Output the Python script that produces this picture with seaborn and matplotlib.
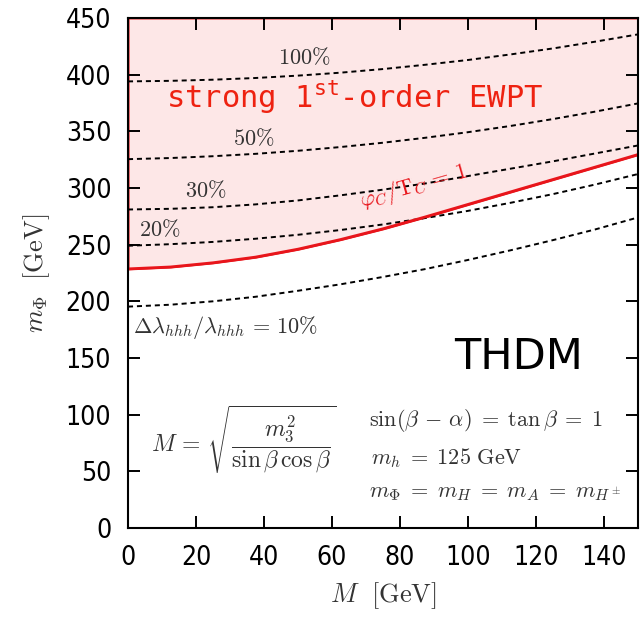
import numpy as np
import pandas as pd
import matplotlib
matplotlib.use("Agg")
import matplotlib.pyplot as plt
import seaborn as sns

# ---- data ----
M_vals = [0, 12.5, 25, 37.5, 50, 62.5, 75, 87.5, 100, 112.5, 125, 137.5, 150]
ewpt_boundary = [228.6, 230.3, 234, 239, 246, 254.5, 264, 274.5, 285.5, 296.5, 307.5, 318.5, 329.5]
dl_100 = [394, 394.5, 395.5, 397, 399.1, 401.7, 404.9, 408.7, 412.9, 417.8, 423.1, 429.1, 435.5]
dl_50 = [325.4, 326.4, 328, 330.1, 332.8, 336.1, 339.9, 344.3, 349.2, 354.7, 360.8, 367.4, 374.6]
dl_30 = [281, 281.6, 283, 285.5, 289, 293.5, 298.5, 304, 310.5, 317, 323.5, 330.5, 337.5]
dl_20 = [249, 250.4, 252.4, 255.2, 258.7, 262.9, 267.8, 273.5, 279.8, 286.9, 294.6, 303.1, 312.3]
dl_10 = [195.3, 197, 200, 204, 209.3, 215, 221.5, 228.5, 236.5, 245, 254, 263.5, 274]
series_names = ["100%", "50%", "30%", "20%", "10%"]
x_ticks = [0, 20, 40, 60, 80, 100, 120, 140]
y_ticks = [0, 50, 100, 150, 200, 250, 300, 350, 400, 450]

sns.set_theme(style="ticks")
plt.rcParams["font.family"] = ["DejaVu Sans"]
plt.rcParams["mathtext.fontset"] = "cm"

fig = plt.figure(figsize=(6.4, 6.18), dpi=100)
ax = fig.add_axes([0.2, 0.1456, 0.797, 0.8254])

rows = []
for name, vals in zip(series_names, [dl_100, dl_50, dl_30, dl_20, dl_10]):
    for m, v in zip(M_vals, vals):
        rows.append({"M": m, "mPhi": v, "level": name})
df = pd.DataFrame(rows)

# shaded strong first-order region
ax.fill_between(M_vals, ewpt_boundary, 450, facecolor="#fde7e7",
                edgecolor="#e8151b", linewidth=1.5, zorder=0)

sns.lineplot(data=df, x="M", y="mPhi", units="level", estimator=None,
             color="black", linewidth=1.4, dashes=False, ax=ax, legend=False,
             zorder=2)
for line in ax.get_lines():
    line.set_linestyle((0, (2.6, 2.0)))

bd = pd.DataFrame({"M": M_vals, "mPhi": ewpt_boundary})
sns.lineplot(data=bd, x="M", y="mPhi", color="#e8151b", linewidth=2.0, ax=ax,
             zorder=3)

ax.set_xlim(0, 150)
ax.set_ylim(0, 450)
ax.set_xticks(x_ticks)
ax.set_yticks(y_ticks)
ax.tick_params(direction="in", length=8.5, width=1.4, top=True, right=True,
               labelsize=19, pad=12, colors="black")
for lab in ax.get_xticklabels() + ax.get_yticklabels():
    lab.set_fontstretch("condensed")
for sp in ax.spines.values():
    sp.set_linewidth(1.5)
    sp.set_color("black")
    sp.set_zorder(5)

ax.set_xlabel(r"$M\ \ [\mathrm{GeV}]$", fontsize=19, color="#333333", labelpad=7)
ax.set_ylabel(r"$m_\Phi\ \ [\mathrm{GeV}]$", fontsize=19, color="#333333", labelpad=10)

gray = "#333333"
ax.text(51.8, 415, r"$100\%$", fontsize=16, color=gray, ha="center", va="center")
ax.text(37, 344, r"$50\%$", fontsize=16, color=gray, ha="center", va="center")
ax.text(23, 298, r"$30\%$", fontsize=16, color=gray, ha="center", va="center")
ax.text(9.4, 264, r"$20\%$", fontsize=16, color=gray, ha="center", va="center")
ax.text(1.5, 177, r"$\Delta\lambda_{hhh}/\lambda_{hhh}\,=\,10\%$", fontsize=16,
        color=gray, ha="left", va="center")

ax.text(66.5, 380, r"strong 1$^{\mathregular{st}}$-order EWPT", fontsize=22,
        color="#ee2211", ha="center", va="center", family="DejaVu Sans Mono",
        math_fontfamily="dejavusans")
ax.text(84, 301, r"$\varphi_C/\mathrm{T}_C\,=\,1$", fontsize=16, color="#e8151b",
        ha="center", va="center", rotation=16)

ax.text(115, 151, "THDM", fontsize=31, color="black", ha="center", va="center")

ax.text(34, 78, r"$M\,=\,\sqrt{\dfrac{m_3^2}{\sin\beta\,\cos\beta}}$", fontsize=17,
        color=gray, ha="center", va="center")
ax.text(70.8, 95, r"$\sin(\beta\,-\,\alpha)\;=\;\tan\beta\;=\;1$", fontsize=16,
        color=gray, ha="left", va="center")
ax.text(71.5, 62, r"$m_h\;=\;125\ \mathrm{GeV}$", fontsize=16,
        color=gray, ha="left", va="center")
ax.text(70.8, 31, r"$m_\Phi\;=\;m_H\;=\;m_A\;=\;m_{H^\pm}$", fontsize=16,
        color=gray, ha="left", va="center")

fig.savefig("out.png", dpi=100)
